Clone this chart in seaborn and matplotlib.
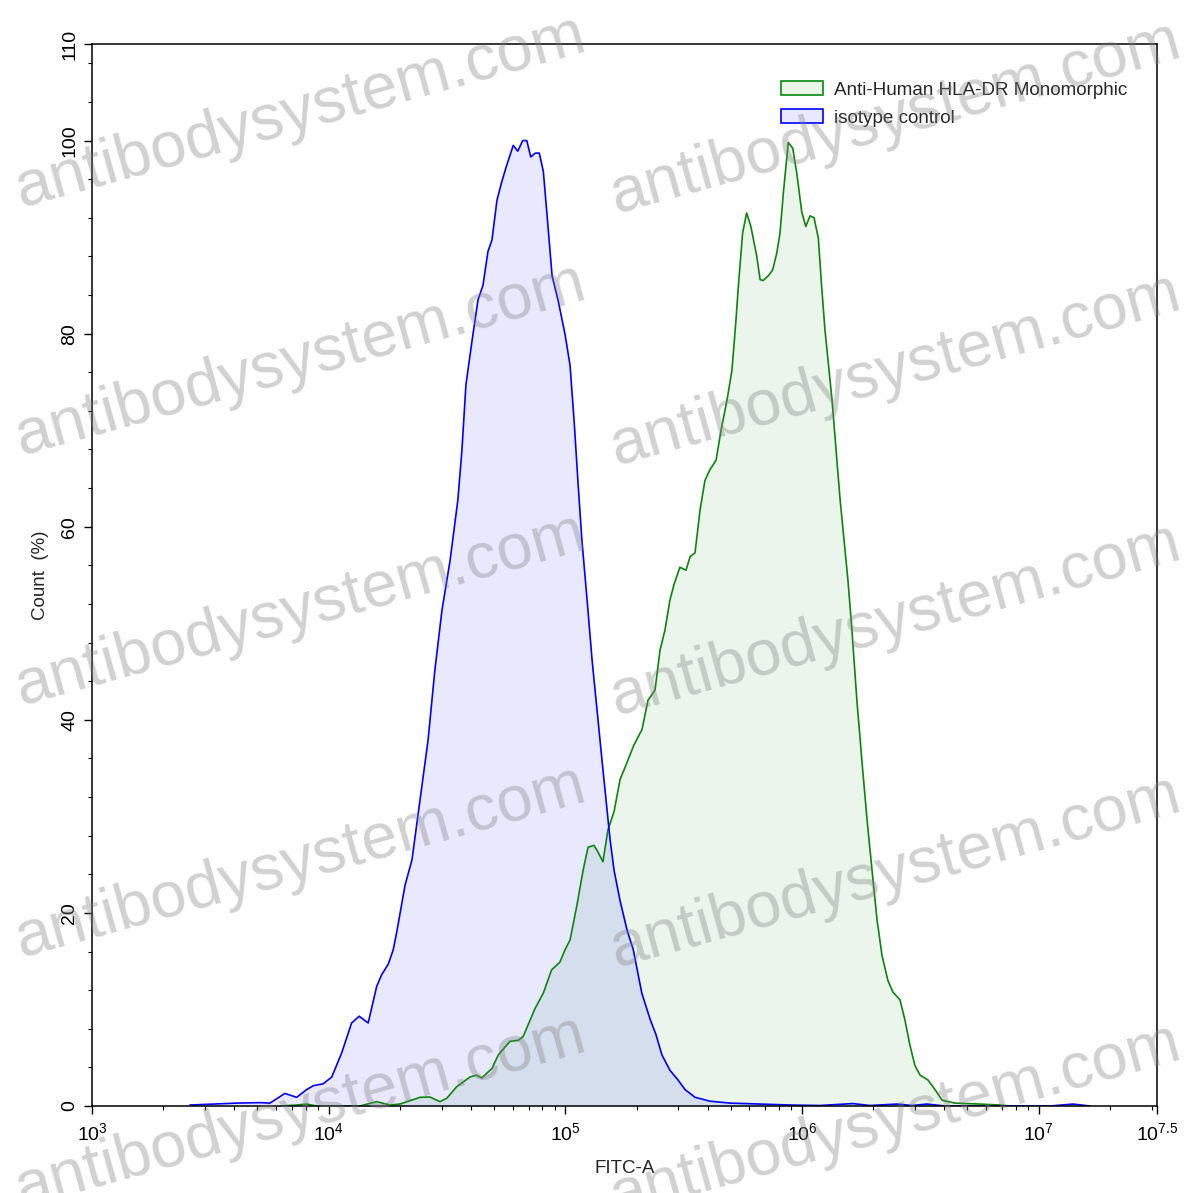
import numpy as np
import pandas as pd
import matplotlib
matplotlib.use('Agg')
import matplotlib.pyplot as plt
import seaborn as sns
from matplotlib.patches import Patch
from matplotlib.ticker import LogLocator, FixedLocator, MultipleLocator, NullFormatter

# FITC-A 강도 (log10 지수) 와 Count (%)
iso_log = [3.414, 3.611, 3.710, 3.752, 3.815, 3.865, 3.907, 3.935, 3.977, 4.013,
           4.055, 4.097, 4.129, 4.167, 4.203, 4.224, 4.252, 4.273, 4.289, 4.323,
           4.352, 4.386, 4.420, 4.449, 4.479, 4.513, 4.546, 4.563, 4.580, 4.606,
           4.631, 4.652, 4.673, 4.690, 4.711, 4.731, 4.753, 4.780, 4.799, 4.820,
           4.837, 4.854, 4.873, 4.890, 4.907, 4.921, 4.944, 4.969, 4.999, 5.020,
           5.037, 5.053, 5.070, 5.092, 5.113, 5.134, 5.155, 5.172, 5.189, 5.206,
           5.231, 5.261, 5.287, 5.323, 5.358, 5.383, 5.408, 5.442, 5.476, 5.506,
           5.548, 5.611, 5.696, 5.823, 5.949, 6.076, 6.215, 6.287, 6.401, 6.465,
           6.528, 6.604, 7.048, 7.145, 7.217]
iso_count = [0.1, 0.3, 0.35, 0.3, 1.3, 0.9, 1.7, 2.1, 2.3, 3.0,
             5.5, 8.6, 9.3, 8.6, 12.4, 13.6, 14.7, 16.2, 18.2, 22.9,
             25.5, 31.7, 37.9, 45.2, 51.4, 56.5, 62.8, 67.9, 74.7, 79.3,
             83.5, 85.0, 88.5, 89.7, 93.8, 95.7, 97.5, 99.5, 98.9, 100.0,
             100.0, 98.3, 98.7, 98.7, 96.8, 92.8, 86.0, 83.5, 79.9, 76.7,
             71.0, 64.8, 58.6, 52.4, 46.2, 41.0, 35.8, 31.7, 27.6, 24.4,
             21.3, 18.2, 16.2, 11.7, 9.0, 7.4, 5.3, 3.7, 2.7, 1.7,
             0.9, 0.5, 0.3, 0.2, 0.1, 0.05, 0.25, 0.05, 0.2, 0.05,
             0.2, 0.0, 0.0, 0.2, 0.0]

hla_log = [3.800, 3.865, 3.907, 3.949, 4.132, 4.203, 4.259, 4.301, 4.386, 4.428,
           4.470, 4.499, 4.541, 4.597, 4.625, 4.647, 4.690, 4.717, 4.766, 4.801,
           4.822, 4.872, 4.907, 4.942, 4.977, 4.999, 5.020, 5.049, 5.075, 5.096,
           5.121, 5.138, 5.159, 5.180, 5.206, 5.231, 5.256, 5.290, 5.324, 5.349,
           5.379, 5.400, 5.421, 5.442, 5.459, 5.484, 5.510, 5.527, 5.548, 5.569,
           5.590, 5.611, 5.637, 5.658, 5.683, 5.704, 5.721, 5.731, 5.749, 5.766,
           5.784, 5.809, 5.823, 5.836, 5.858, 5.876, 5.893, 5.907, 5.921, 5.942,
           5.961, 5.978, 5.999, 6.016, 6.034, 6.051, 6.069, 6.083, 6.097, 6.127,
           6.161, 6.194, 6.211, 6.232, 6.253, 6.275, 6.296, 6.317, 6.338, 6.363,
           6.384, 6.414, 6.435, 6.456, 6.477, 6.499, 6.532, 6.562, 6.592, 6.646,
           6.752, 6.837, 6.879]
hla_count = [0.0, 0.1, 0.2, 0.0, 0.0, 0.45, 0.1, 0.2, 0.9, 0.93,
             0.45, 0.8, 2.0, 3.0, 3.2, 2.9, 3.9, 5.3, 6.7, 6.8,
             7.2, 10.1, 11.7, 14.1, 14.9, 16.2, 17.2, 20.8, 24.4, 26.8,
             27.0, 26.3, 25.3, 28.6, 30.5, 33.8, 35.3, 37.4, 39.0, 42.0,
             43.1, 47.2, 49.3, 52.4, 54.0, 55.8, 55.5, 56.9, 57.3, 61.7,
             64.8, 65.9, 66.9, 70.0, 73.1, 76.2, 81.4, 84.9, 90.4, 92.5,
             91.1, 88.0, 85.6, 85.5, 86.0, 86.6, 88.3, 90.4, 94.5, 99.8,
             99.2, 96.6, 92.6, 91.1, 92.2, 92.0, 89.9, 84.9, 80.4, 73.1,
             62.8, 54.5, 49.3, 42.0, 35.8, 29.6, 24.4, 19.3, 15.6, 13.0,
             11.8, 11.0, 8.9, 6.3, 4.2, 3.2, 2.7, 1.7, 0.6, 0.3,
             0.2, 0.1, 0.0]

x_ticks_exp = [3, 4, 5, 6, 7, 7.5]
x_tick_labels = [r'$\mathregular{10^{3}}$', r'$\mathregular{10^{4}}$', r'$\mathregular{10^{5}}$',
                 r'$\mathregular{10^{6}}$', r'$\mathregular{10^{7}}$', r'$\mathregular{10^{7.5}}$']
y_ticks = [0, 20, 40, 60, 80, 100, 110]

sns.set_style('ticks')
plt.rcParams['font.family'] = ['Liberation Sans', 'DejaVu Sans']
plt.rcParams['mathtext.fontset'] = 'custom'
plt.rcParams['mathtext.rm'] = 'Liberation Sans'

iso = pd.DataFrame({'FITC-A': np.power(10.0, iso_log), 'Count': iso_count})
hla = pd.DataFrame({'FITC-A': np.power(10.0, hla_log), 'Count': hla_count})

fig = plt.figure(figsize=(11.97, 11.93), dpi=100)
ax = fig.add_axes([92 / 1197, 1 - 1106 / 1193, (1157 - 92) / 1197, (1106 - 44) / 1193])

# 채우기
ax.fill_between(hla['FITC-A'], hla['Count'], color=(0, 0.5, 0), alpha=0.08, linewidth=0)
ax.fill_between(iso['FITC-A'], iso['Count'], color=(0, 0, 1), alpha=0.09, linewidth=0)

sns.lineplot(data=hla, x='FITC-A', y='Count', ax=ax, color='#0a870a', linewidth=1.2, sort=False)
sns.lineplot(data=iso, x='FITC-A', y='Count', ax=ax, color='#0000FF', linewidth=1.2, sort=False)

ax.set_xscale('log')
ax.set_xlim(10 ** 3, 10 ** 7.5)
ax.set_ylim(0, 110)

ax.xaxis.set_major_locator(FixedLocator([10 ** e for e in x_ticks_exp]))
ax.set_xticklabels(x_tick_labels)
ax.xaxis.set_minor_locator(LogLocator(base=10, subs=np.arange(2, 10)))
ax.xaxis.set_minor_formatter(NullFormatter())

ax.yaxis.set_major_locator(FixedLocator(y_ticks))
ax.yaxis.set_minor_locator(MultipleLocator(4))
ax.set_yticklabels([str(v) for v in y_ticks], rotation=90, va='center')

ax.tick_params(which='major', length=6, width=1, labelsize=14, color='black', labelcolor='black')
ax.tick_params(which='minor', length=3, width=0.8, color='black')
ax.tick_params(axis='x', pad=6)
ax.tick_params(axis='y', pad=4)
for s in ax.spines.values():
    s.set_linewidth(1.1)
    s.set_color('black')

ax.set_xlabel('FITC-A', fontsize=13.5, labelpad=11)
ax.set_ylabel('Count  (%)', fontsize=13.5, labelpad=9)

handles = [Patch(facecolor=(0.91, 0.96, 0.91), edgecolor='#0a870a', linewidth=1.2),
           Patch(facecolor=(0.91, 0.91, 1.0), edgecolor='#0000FF', linewidth=1.2)]
ax.legend(handles, ['Anti-Human HLA-DR Monomorphic', 'isotype control'],
          loc='upper right', bbox_to_anchor=(0.972, 0.965), frameon=False,
          fontsize=13.6, handlelength=2.2, handleheight=0.75, handletextpad=0.6,
          labelspacing=0.55, borderaxespad=0, borderpad=0)

# 워터마크
wm_pos = [(300, 112), (300, 360), (300, 610), (300, 862), (300, 1112),
          (895, 118), (895, 370), (895, 620), (895, 872), (895, 1120)]
for px, py in wm_pos:
    fig.text(px / 1197, 1 - py / 1193, 'antibodysystem.com', rotation=15.5,
             rotation_mode='anchor', ha='center', va='center', fontsize=46.5,
             color=(0.5, 0.5, 0.5), alpha=0.36, zorder=10)

plt.savefig('out.png', dpi=100)
